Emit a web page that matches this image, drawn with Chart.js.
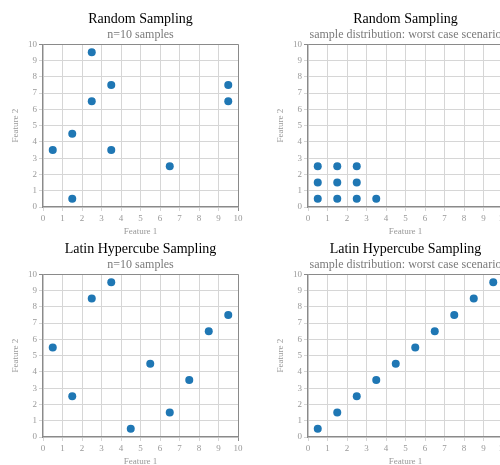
<!DOCTYPE html>
<html>
<head>
<meta charset="utf-8">
<script src="https://cdn.jsdelivr.net/npm/chart.js@4.4.0/dist/chart.umd.min.js"></script>
<style>
  body { margin: 0; width: 500px; height: 465px; overflow: hidden; background: #fff; position: relative; }
  .box { position: absolute; width: 250px; height: 237px; }
</style>
</head>
<body>
<div class="box" style="left:0;top:0"><canvas id="c1" width="250" height="237"></canvas></div>
<div class="box" style="left:265px;top:0"><canvas id="c2" width="250" height="237"></canvas></div>
<div class="box" style="left:0;top:230px"><canvas id="c3" width="250" height="237"></canvas></div>
<div class="box" style="left:265px;top:230px"><canvas id="c4" width="250" height="237"></canvas></div>
<script>
// sample points
const randomX = [0.5, 1.5, 1.5, 2.5, 2.5, 3.5, 3.5, 6.5, 9.5, 9.5];
const randomY = [3.5, 4.5, 0.5, 9.5, 6.5, 7.5, 3.5, 2.5, 7.5, 6.5];
const randomWorstX = [0.5, 0.5, 0.5, 1.5, 1.5, 1.5, 2.5, 2.5, 2.5, 3.5];
const randomWorstY = [0.5, 1.5, 2.5, 0.5, 1.5, 2.5, 0.5, 1.5, 2.5, 0.5];
const lhsX = [0.5, 1.5, 2.5, 3.5, 4.5, 5.5, 6.5, 7.5, 8.5, 9.5];
const lhsY = [5.5, 2.5, 8.5, 9.5, 0.5, 4.5, 1.5, 3.5, 6.5, 7.5];
const lhsWorstX = [0.5, 1.5, 2.5, 3.5, 4.5, 5.5, 6.5, 7.5, 8.5, 9.5];
const lhsWorstY = [0.5, 1.5, 2.5, 3.5, 4.5, 5.5, 6.5, 7.5, 8.5, 9.5];

const titles = ['Random Sampling', 'Random Sampling', 'Latin Hypercube Sampling', 'Latin Hypercube Sampling'];
const subtitles = ['n=10 samples', 'sample distribution: worst case scenario', 'n=10 samples', 'sample distribution: worst case scenario'];
const axisMin = 0, axisMax = 10;

Chart.defaults.font.family = "'Liberation Serif', 'DejaVu Serif', serif";
Chart.defaults.animation = false;

function gridColor(ctx) {
  if (ctx.tick && ctx.tick.value === axisMax) return '#8a8a8a';
  return '#d6d6d6';
}

function makeChart(id, xs, ys, title, subtitle) {
  const pts = xs.map((x, i) => ({ x: x, y: ys[i] }));
  new Chart(document.getElementById(id), {
    type: 'scatter',
    data: {
      datasets: [{
        data: pts,
        backgroundColor: '#1f77b4',
        borderWidth: 0,
        pointRadius: 4
      }]
    },
    options: {
      responsive: false,
      layout: { padding: { left: 10, right: 12, top: 0, bottom: 0 } },
      plugins: {
        legend: { display: false },
        tooltip: { enabled: false },
        title: {
          display: true, text: title, fullSize: false, color: '#000',
          font: { size: 14, weight: 'normal' }, padding: { top: 11, bottom: 0 }
        },
        subtitle: {
          display: true, text: subtitle, fullSize: false, color: '#7a7a7a',
          font: { size: 12 }, padding: { top: 0, bottom: 2 }
        }
      },
      scales: {
        x: {
          type: 'linear', min: axisMin, max: axisMax,
          ticks: { stepSize: 1, color: '#999', font: { size: 9 }, padding: 2, maxRotation: 0 },
          grid: { color: gridColor, tickLength: 4 },
          border: { color: '#8a8a8a', width: 1.2 },
          title: { display: true, text: 'Feature 1', color: '#999', font: { size: 9 }, padding: 0 },
          afterFit: function(s) { s.height = 30; }
        },
        y: {
          type: 'linear', min: axisMin, max: axisMax,
          ticks: { stepSize: 1, color: '#999', font: { size: 9 }, padding: 2 },
          grid: { color: gridColor, tickLength: 4 },
          border: { color: '#8a8a8a', width: 1.2 },
          title: { display: true, text: 'Feature 2', color: '#999', font: { size: 9 }, padding: 0 },
          afterFit: function(s) { s.width = 33; }
        }
      }
    }
  });
}

makeChart('c1', randomX, randomY, titles[0], subtitles[0]);
makeChart('c2', randomWorstX, randomWorstY, titles[1], subtitles[1]);
makeChart('c3', lhsX, lhsY, titles[2], subtitles[2]);
makeChart('c4', lhsWorstX, lhsWorstY, titles[3], subtitles[3]);
</script>
</body>
</html>
